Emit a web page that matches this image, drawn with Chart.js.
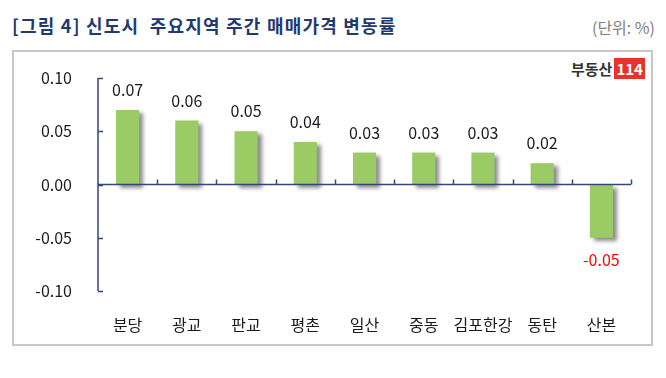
<!DOCTYPE html>
<html>
<head>
<meta charset="utf-8">
<script src="https://cdn.jsdelivr.net/npm/chart.js@4"></script>
<style>
  body { margin: 0; background: #fff; font-family: "Noto Sans CJK KR", "Noto Sans", sans-serif; }
  #wrap { position: relative; width: 666px; height: 378px; overflow: hidden; }
  #title { position: absolute; left: 12px; top: 12px; font-size: 18px; letter-spacing: 1.2px; font-weight: bold; color: #1f3a6e; white-space: pre; }
  #unit { position: absolute; right: 11px; top: 15px; font-size: 16px; color: #808080; }
  #frame { position: absolute; left: 12px; top: 50px; width: 637px; height: 292px; border: 2px solid #c8c8c8; }
  #logo { position: absolute; left: 571px; top: 58px; font-size: 15px; font-weight: bold; color: #333; }
  #logo span { background: #e8322b; color: #fff; padding: 0 2px; margin-left: 2px; }
  canvas { position: absolute; left: 0; top: 0; }
</style>
</head>
<body>
<div id="wrap">
  <div id="title">[그림 4] 신도시  주요지역 주간 매매가격 변동률</div>
  <div id="unit">(단위: %)</div>
  <div id="frame"></div>
  <div id="logo">부동산<span>114</span></div>
  <canvas id="chart" width="666" height="378"></canvas>
</div>
<script>
/* =========================
   DATA
========================= */
const regions = ["분당", "광교", "판교", "평촌", "일산", "중동", "김포한강", "동탄", "산본"];
const changes = [0.07, 0.06, 0.05, 0.04, 0.03, 0.03, 0.03, 0.02, -0.05];
const yTicks = [-0.10, -0.05, 0.00, 0.05, 0.10];

const axisColor = "#34477a";
const barColor = "#9bcb64";

/* =========================
   PLUGINS
========================= */
// soft shadow behind bars
const barShadow = {
  id: "barShadow",
  beforeDatasetsDraw(chart) {
    const ctx = chart.ctx;
    ctx.save();
    ctx.shadowColor = "rgba(0,0,0,0.45)";
    ctx.shadowBlur = 4;
    ctx.shadowOffsetX = 4;
    ctx.shadowOffsetY = 3;
  },
  afterDatasetsDraw(chart) {
    chart.ctx.restore();
  }
};

// axis lines, tick marks, value labels
const axesAndLabels = {
  id: "axesAndLabels",
  afterDraw(chart) {
    const ctx = chart.ctx;
    const y = chart.scales.y;
    const left = chart.chartArea.left;
    const right = chart.chartArea.right;
    const zero = y.getPixelForValue(0);

    ctx.save();
    ctx.strokeStyle = axisColor;
    ctx.lineWidth = 1.5;
    ctx.beginPath();
    ctx.moveTo(left, y.getPixelForValue(yTicks[yTicks.length - 1]));
    ctx.lineTo(left, y.getPixelForValue(yTicks[0]));
    yTicks.forEach(v => {
      const py = Math.round(y.getPixelForValue(v)) + 0.5;
      ctx.moveTo(left, py);
      ctx.lineTo(left + 5, py);
    });
    ctx.moveTo(left, zero);
    ctx.lineTo(right, zero);
    const step = (right - left) / regions.length;
    for (let i = 1; i <= regions.length; i++) {
      const px = Math.round(left + step * i) + 0.5;
      ctx.moveTo(px, zero);
      ctx.lineTo(px, zero - 5);
    }
    ctx.stroke();

    ctx.font = "16px 'Noto Sans CJK KR', 'Noto Sans', sans-serif";
    ctx.textAlign = "center";
    ctx.textBaseline = "middle";
    const meta = chart.getDatasetMeta(0);
    meta.data.forEach((bar, i) => {
      const v = changes[i];
      if (v >= 0) {
        ctx.fillStyle = "#1a1a1a";
        ctx.fillText(v.toFixed(2), bar.x, bar.y - 20);
      } else {
        ctx.fillStyle = "#ff0000";
        ctx.fillText(v.toFixed(2), bar.x, bar.y + 22);
      }
    });
    ctx.restore();
  }
};

/* =========================
   CHART
========================= */
new Chart(document.getElementById("chart"), {
  type: "bar",
  data: {
    labels: regions,
    datasets: [{
      data: changes,
      backgroundColor: barColor,
      borderWidth: 0,
      categoryPercentage: 1,
      barPercentage: 0.39
    }]
  },
  options: {
    responsive: false,
    animation: false,
    events: [],
    layout: { padding: { left: 0, right: 35, top: 78, bottom: 0 } },
    plugins: { legend: { display: false }, tooltip: { enabled: false } },
    scales: {
      x: {
        grid: { display: false, drawTicks: false },
        border: { display: false },
        ticks: {
          color: "#1a1a1a",
          padding: 24,
          maxRotation: 0,
          minRotation: 0,
          autoSkip: false,
          font: { size: 16, family: "'Noto Sans CJK KR', 'Noto Sans', sans-serif" }
        },
        afterFit(scale) { scale.height = 87; }
      },
      y: {
        min: -0.10,
        max: 0.10,
        grid: { display: false, drawTicks: false },
        border: { display: false },
        ticks: {
          stepSize: 0.05,
          color: "#1a1a1a",
          padding: 26,
          font: { size: 16, family: "'Noto Sans CJK KR', 'Noto Sans', sans-serif" },
          callback: v => Number(v).toFixed(2)
        },
        afterFit(scale) { scale.width = 98; }
      }
    }
  },
  plugins: [barShadow, axesAndLabels]
});
</script>
</body>
</html>
